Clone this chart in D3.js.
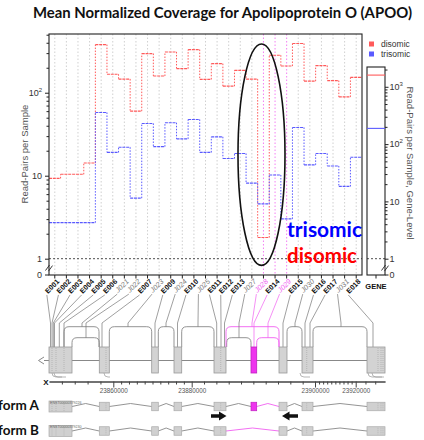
<!DOCTYPE html>
<html><head><meta charset="utf-8">
<script src="https://cdn.jsdelivr.net/npm/d3@7"></script>
<style>body{margin:0;background:#fff}svg{display:block}</style>
</head><body><svg id="c" width="424" height="440"></svg>
<script>
// ---------------- DATA ----------------
const titleText = "Mean Normalized Coverage for Apolipoprotein O (APOO)";
const categories = ["E001","E002","E003","E004","E005","E006","J021","J022","E007","J023","E009","J024","E010","J025","E011","E012","E013","J027","J028","E014","J029","E015","J030","E016","E017","J031","E018"];
const disomic  = [9.3,10.4,10.4,14.2,380,167,146,60,296,159,310,195,331,145,224,120,186,146,1.8,283,210,392,138,212,140,89,153];
const trisomic = [2.72,2.72,2.72,2.72,57.8,19.1,22,5.37,42.6,22.4,43.4,27.8,47.6,19.1,29.4,16.1,18.5,8.15,4.58,10.2,3.02,38.1,13.5,18.5,13.1,7.43,16.7];
const seriesNames = ["disomic","trisomic"];
const geneLevel = [1600, 188];           // disomic, trisomic (gene-level panel)
const highlighted = ["J028","E014","J029"];
const mainMajorTicks = [1,10,100];
const geneMajorTicks = [1,10,100,1000];
const genomicMajorTicks = [23860000,23880000,23900000,23920000];
const isoformNames = ["Isoform A","Isoform B"];
const isoformIds = ["ENST00000379226","ENST00000379230"];
const annotTop = "trisomic", annotBottom = "disomic";

// ---------------- LAYOUT ----------------
const svg = d3.select("#c");
const L = 49, R = 362, T = 34, Y1 = 258.7, Y0 = 275;
const GL = 367, GR = 385, GT = 67;
const colors = {disomic:"#ff5a5a", trisomic:"#5a5aff"};
const magenta = "#f060f0";
const font = "'Liberation Sans', Arial, sans-serif";
const bold = "Lato, 'Open Sans', sans-serif";

const x = d3.scaleBand().domain(categories).range([L, R]);
const cx = c => x(c) + x.bandwidth()/2;
const y = d3.scaleLog().domain([1, 510]).range([Y1, T]);
const yG = d3.scaleLog().domain([1, 2215]).range([Y1, GT]);

// title
svg.append("text").attr("x",222.5).attr("y",18).attr("text-anchor","middle")
  .attr("font-family",bold).attr("font-weight","bold").attr("font-size",15)
  .attr("textLength",379).attr("lengthAdjust","spacingAndGlyphs").attr("fill","#111").text(titleText);

// gridlines
svg.append("g").selectAll("line").data(categories).join("line")
  .attr("x1",d=>cx(d)).attr("x2",d=>cx(d)).attr("y1",T).attr("y2",Y0)
  .attr("stroke",d=>highlighted.includes(d)?magenta:"#c4c4c4").attr("stroke-width",0.8)
  .attr("stroke-dasharray","1.5,2");

// y=1 dotted line
svg.append("line").attr("x1",L).attr("x2",R).attr("y1",Y1).attr("y2",Y1).attr("stroke","#222").attr("stroke-width",0.8).attr("stroke-dasharray","2,2");
svg.append("line").attr("x1",GL).attr("x2",GR).attr("y1",Y1).attr("y2",Y1).attr("stroke","#222").attr("stroke-width",0.8).attr("stroke-dasharray","2,2");

// step lines
function drawStep(vals, color){
  const g = svg.append("g");
  vals.forEach((v,i)=>{
    const x0 = x(categories[i]), x1 = x0 + x.bandwidth();
    g.append("line").attr("x1",x0).attr("x2",x1).attr("y1",y(v)).attr("y2",y(v))
      .attr("stroke",color).attr("stroke-width",1.1).attr("stroke-dasharray","3,0.8");
    if(i < vals.length-1){
      g.append("line").attr("x1",x1).attr("x2",x1).attr("y1",y(v)).attr("y2",y(vals[i+1]))
        .attr("stroke",color).attr("stroke-width",1).attr("stroke-dasharray","1.5,1.5");
    }
  });
}
drawStep(disomic, colors.disomic);
drawStep(trisomic, colors.trisomic);

// frames
svg.append("rect").attr("x",L).attr("y",T).attr("width",R-L).attr("height",Y0-T).attr("fill","none").attr("stroke","#222").attr("stroke-width",1.1);
svg.append("rect").attr("x",GL).attr("y",GT).attr("width",GR-GL).attr("height",Y0-GT).attr("fill","none").attr("stroke","#222").attr("stroke-width",1.1);

// gene level lines
seriesNames.forEach((s,i)=>{
  svg.append("line").attr("x1",GL).attr("x2",GR).attr("y1",yG(geneLevel[i])).attr("y2",yG(geneLevel[i]))
    .attr("stroke",colors[s]).attr("stroke-width",1.1);
});

// minor ticks helpers
function minorTicks(maxV){ const out=[]; for(let p=1;p<=maxV;p*=10){ for(let k=2;k<=9;k++){ if(k*p<=maxV) out.push(k*p);} } return out; }
function supLabel(sel){
  sel.selectAll(".tick text").each(function(d){
    const t = d3.select(this); t.text("");
    if(d===1){ t.text("1"); }
    else if(d===10){ t.text("10"); }
    else { const e = Math.round(Math.log10(d)); t.append("tspan").text("10"); t.append("tspan").attr("dy",-4).attr("font-size",6).text(String(e)); }
  });
}
// main y axis
const gyMin = svg.append("g").attr("transform",`translate(${L},0)`)
  .call(d3.axisLeft(y).tickValues(minorTicks(510)).tickSize(2.5).tickFormat(""));
const gy = svg.append("g").attr("transform",`translate(${L},0)`)
  .call(d3.axisLeft(y).tickValues(mainMajorTicks).tickSize(4).tickPadding(3));
[gyMin,gy].forEach(g=>{g.select(".domain").remove(); g.selectAll("line").attr("stroke","#222");});
gy.selectAll("text").attr("font-family",font).attr("font-size",9).attr("fill","#333");
supLabel(gy);
svg.append("line").attr("x1",L-4).attr("x2",L).attr("y1",Y0).attr("y2",Y0).attr("stroke","#222");
svg.append("text").attr("x",L-7).attr("y",Y0+3).attr("text-anchor","end").attr("font-family",font).attr("font-size",9).attr("fill","#333").text("0");
// gene y axis
const ggMin = svg.append("g").attr("transform",`translate(${GR},0)`)
  .call(d3.axisRight(yG).tickValues(minorTicks(2215)).tickSize(2.5).tickFormat(""));
const gg = svg.append("g").attr("transform",`translate(${GR},0)`)
  .call(d3.axisRight(yG).tickValues(geneMajorTicks).tickSize(3.5).tickPadding(1));
[ggMin,gg].forEach(g=>{g.select(".domain").remove(); g.selectAll("line").attr("stroke","#222");});
gg.selectAll("text").attr("font-family",font).attr("font-size",9).attr("fill","#333");
supLabel(gg);
svg.append("line").attr("x1",GR).attr("x2",GR+3.5).attr("y1",Y0).attr("y2",Y0).attr("stroke","#222");
svg.append("text").attr("x",GR+4.5).attr("y",Y0+3).attr("font-family",font).attr("font-size",9).attr("fill","#333").text("0");

// axis breaks
[[L-2.5,0],[GR-2.5,0]].forEach(([bx])=>{
  [0,3].forEach(o=>svg.append("line").attr("x1",bx+o-1).attr("y1",270.5+o*0.2).attr("x2",bx+o+3).attr("y2",265+o*0.2).attr("stroke","#222").attr("stroke-width",0.9));
});

// axis titles
svg.append("text").attr("transform","translate(28,154) rotate(-90)").attr("text-anchor","middle")
  .attr("font-family",font).attr("font-size",9.5).attr("fill","#555").text("Read-Pairs per Sample");
svg.append("text").attr("transform","translate(407,163) rotate(90)").attr("text-anchor","middle")
  .attr("font-family",font).attr("font-size",9.5).attr("fill","#555").text("Read-Pairs per Sample, Gene-Level");

// legend
seriesNames.forEach((s,i)=>{
  svg.append("rect").attr("x",369).attr("y",41.5+i*10).attr("width",5).attr("height",5).attr("fill",colors[s]);
  svg.append("text").attr("x",381).attr("y",46.7+i*10).attr("font-family",font).attr("font-size",8.5).attr("fill","#333").text(s);
});

// x ticks and labels
const xt = svg.append("g");
xt.selectAll("line").data(categories).join("line").attr("x1",d=>cx(d)).attr("x2",d=>cx(d)).attr("y1",Y0).attr("y2",Y0+3.5).attr("stroke","#222");
const labelEnds = {};
categories.forEach(c=>{
  const isE = c[0]==="E";
  const t = xt.append("text").attr("transform",`translate(${cx(c)+5},282) rotate(-45)`).attr("text-anchor","end")
    .attr("font-family",font).attr("font-size",7.2)
    .attr("font-weight",isE?"bold":"normal").attr("font-style",isE?"normal":"italic")
    .attr("fill",isE?"#111":(highlighted.includes(c)?magenta:"#777")).text(c);
  const len = t.node().getComputedTextLength()+1.5;
  labelEnds[c] = [cx(c)+5-len*0.7071, 282+len*0.7071];
});
svg.append("line").attr("x1",376).attr("x2",376).attr("y1",Y0).attr("y2",Y0+3.5).attr("stroke","#222");
svg.append("text").attr("x",376).attr("y",289).attr("text-anchor","middle").attr("font-family",font).attr("font-weight","bold").attr("font-size",7.5).attr("fill","#111").text("GENE");

// annotation ellipse + text
svg.append("ellipse").attr("cx",261.5).attr("cy",154.7).attr("rx",23.5).attr("ry",110.7).attr("fill","none").attr("stroke","#111").attr("stroke-width",1.6);
svg.append("text").attr("x",287).attr("y",237).attr("font-family",bold).attr("font-weight","bold").attr("font-size",21)
  .attr("textLength",75).attr("lengthAdjust","spacingAndGlyphs").attr("fill","#0000ff").text(annotTop);
svg.append("text").attr("x",287).attr("y",263).attr("font-family",bold).attr("font-weight","bold").attr("font-size",21)
  .attr("textLength",70).attr("lengthAdjust","spacingAndGlyphs").attr("fill","#ff0000").text(annotBottom);

// ---------------- GENE DIAGRAM (layout) ----------------
const EX_T = 347, EX_B = 373, MID = 360.5, TOP_O = 326.7, TOP_I = 337.7, LINK_Y = 323;
const exons = [[49,72,[52,56,64]],[99.3,109.3,[106]],[151.7,158.3,[]],[174,181.7,[]],[214,226,[220.7]],[251,256.7,[],true],[279,287,[]],[302,313,[306.7]],[367,385,[378,381,383]]];
const arcs = [[64,99,TOP_O,false],[72,99.3,TOP_I,false],[109.3,151.7,TOP_O,false],[158.3,174,TOP_O,false],[181.7,214,TOP_O,false],[226.7,251,TOP_I,false],[226,279,TOP_O,true],[256.7,279,TOP_I,true],[287,302,TOP_O,false],[313,367,TOP_O,false]];
const targets = {E001:[50.5,EX_T],E002:[52,EX_T],E003:[53.3,EX_T],E004:[54.5,EX_T],E005:[59.3,EX_T],E006:[64,EX_T],J021:[82,TOP_O],J022:[86,TOP_I],E007:[102,EX_T],J023:[128,TOP_O],E009:[155,EX_T],J024:[166,TOP_O],E010:[177.5,EX_T],J025:[198,TOP_O],E011:[216.7,EX_T],E012:[221,EX_T],E013:[224.5,EX_T],J027:[239,TOP_I],J028:[252,TOP_O],E014:[254,EX_T],J029:[268,TOP_I],E015:[283,EX_T],J030:[295,TOP_O],E016:[305,EX_T],E017:[310,EX_T],J031:[341,TOP_O],E018:[373,EX_T]};
const gd = svg.append("g");
gd.append("line").attr("x1",44).attr("x2",GR).attr("y1",MID).attr("y2",MID).attr("stroke","#888").attr("stroke-width",1);
gd.append("path").attr("d",`M44,357 L38.5,360.5 L44,364`).attr("fill","none").attr("stroke","#888").attr("stroke-width",1);
// arcs
arcs.forEach(([a,b,top,hl])=>{
  const r=5;
  gd.append("path").attr("d",`M${a},${EX_T} V${top+r} Q${a},${top} ${a+r},${top} H${b-r} Q${b},${top} ${b},${top+r} V${EX_T}`)
    .attr("fill","none").attr("stroke",hl?magenta:"#888").attr("stroke-width",0.9);
});
// label links
categories.forEach(c=>{
  const [sx,sy] = labelEnds[c]; const [tx,ty] = targets[c];
  const col = highlighted.includes(c)?magenta:"#777";
  gd.append("path").attr("d",`M${sx},${sy} L${tx},${LINK_Y} V${ty}`).attr("fill","none").attr("stroke",col).attr("stroke-width",0.7);
});
// exons
exons.forEach(([a,b,inner,hl])=>{
  gd.append("rect").attr("x",a).attr("y",EX_T).attr("width",b-a).attr("height",EX_B-EX_T)
    .attr("fill",hl?"#ee33ee":"#d3d3d3").attr("stroke",hl?"#c020c0":"#999").attr("stroke-width",0.8);
  inner.forEach(ix=>gd.append("line").attr("x1",ix).attr("x2",ix).attr("y1",EX_T+1).attr("y2",EX_B-1).attr("stroke","#aaa").attr("stroke-width",0.7).attr("stroke-dasharray","1,1"));
});
// end hooks
[[52,62],[54,66],[104,110],[300,310],[368,382],[372,384]].forEach(([a,b])=>{
  gd.append("path").attr("d",`M${a},${EX_B} Q${a},${EX_B+4} ${a+4},${EX_B+4} H${b}`).attr("fill","none").attr("stroke","#999").attr("stroke-width",0.7);
});

// genomic axis
const gScale = d3.scaleLinear().domain([23850000,23860000,23880000,23900000,23920000,23926000]).range([L,113.3,191.7,315,355.7,GR]);
const minorG = d3.range(23852000,23926000,2000).filter(v=>!genomicMajorTicks.includes(v));
const ga1 = svg.append("g").attr("transform","translate(0,381.5)").call(d3.axisBottom(gScale).tickValues(minorG).tickSize(3).tickSizeOuter(0).tickFormat(""));
const ga2 = svg.append("g").attr("transform","translate(0,381.5)").call(d3.axisBottom(gScale).tickValues(genomicMajorTicks).tickSize(6).tickSizeOuter(0).tickPadding(2).tickFormat(d3.format("d")));
[ga1,ga2].forEach(g=>{g.selectAll("line").attr("stroke","#444"); g.select(".domain").attr("stroke","#444").attr("stroke-width",1.2);});
ga2.selectAll("text").attr("font-family",font).attr("font-size",6.3).attr("fill","#555").attr("dy","0.5em");
svg.append("text").attr("x",46).attr("y",384.5).attr("text-anchor","middle").attr("font-family",font).attr("font-weight","bold").attr("font-size",8).attr("fill","#111").text("X");

// isoforms
const rows = [{yc:406.5, ex:[0,1,2,3,4,5,6,7,8]},{yc:431, ex:[0,1,2,3,4,6,7,8]}];
rows.forEach((row,ri)=>{
  const g = svg.append("g");
  for(let k=0;k<row.ex.length-1;k++){
    const e1 = exons[row.ex[k]], e2 = exons[row.ex[k+1]];
    const a=e1[1], b=e2[0];
    const hl = e1[3] || (row.ex[k+1]-row.ex[k]>1 && row.ex[k]===4);
    g.append("path").attr("d",`M${a},${row.yc} L${(a+b)/2},${row.yc-3} L${b},${row.yc}`).attr("fill","none")
      .attr("stroke",hl?magenta:"#888").attr("stroke-width",0.9);
  }
  row.ex.forEach((ei,k)=>{
    const [a,b,inner,hl] = exons[ei];
    const h = k===0?11:8.5;
    g.append("rect").attr("x",a).attr("y",row.yc-h/2).attr("width",b-a).attr("height",h)
      .attr("fill",hl?"#ee33ee":"#d0d0d0").attr("stroke",hl?"#c020c0":"#aaa").attr("stroke-width",0.7);
    inner.forEach(ix=>g.append("line").attr("x1",ix).attr("x2",ix).attr("y1",row.yc-h/2+1).attr("y2",row.yc+h/2-1).attr("stroke","#aaa").attr("stroke-width",0.6).attr("stroke-dasharray","1,1"));
  });
  g.append("text").attr("x",50).attr("y",row.yc-3).attr("font-family",font).attr("font-size",3.6).attr("fill","#666").text(isoformIds[ri]);
  svg.append("text").attr("x",39).attr("y",row.yc+3.5).attr("text-anchor","end").attr("font-family",bold).attr("font-weight","bold").attr("font-size",13.5).attr("fill","#111").text(isoformNames[ri]);
});
// arrows
svg.append("path").attr("d","M211,414.3 H219 V411.5 L226.5,416 L219,420.5 V417.7 H211 Z").attr("fill","#111");
svg.append("path").attr("d","M298,414.3 H289.5 V411.5 L282,416 L289.5,420.5 V417.7 H298 Z").attr("fill","#111");
</script></body></html>
